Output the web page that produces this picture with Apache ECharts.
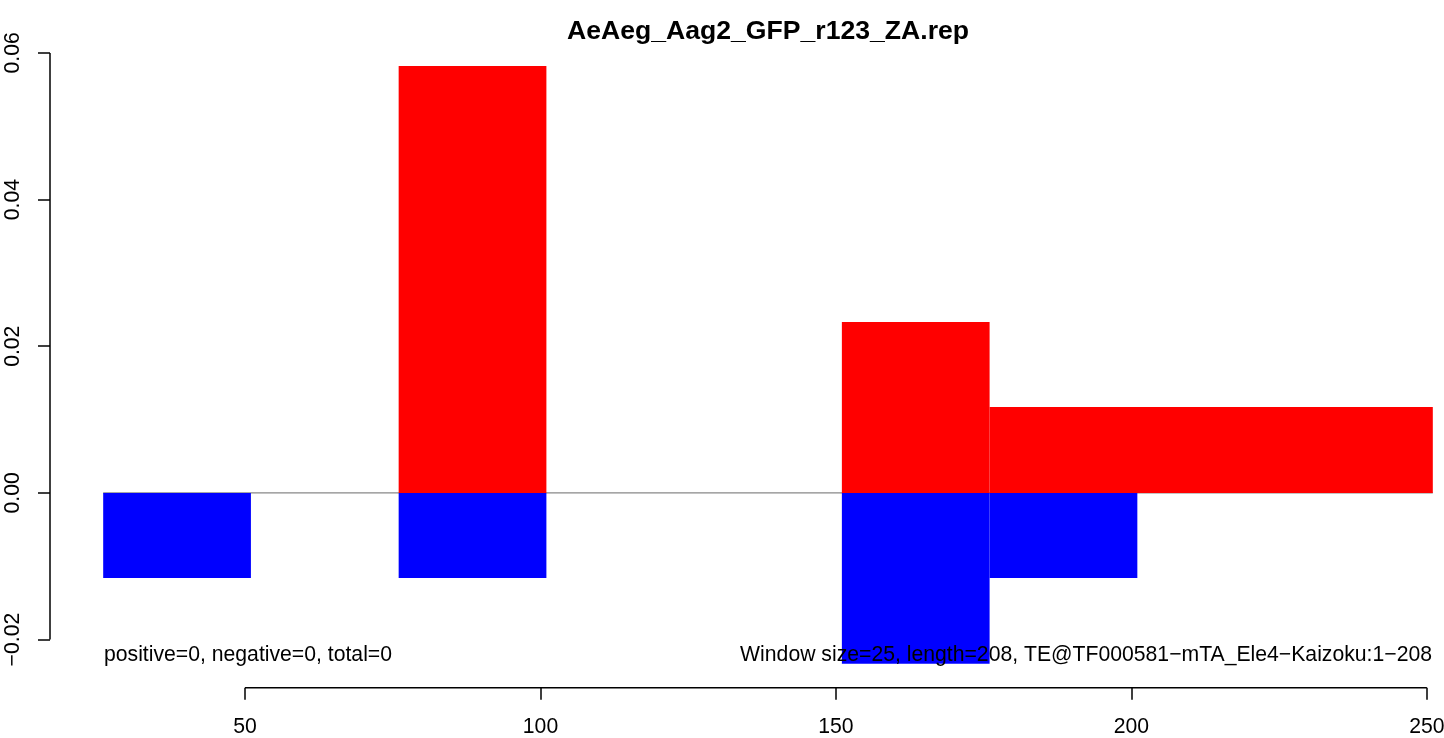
<!DOCTYPE html>
<html>
<head>
<meta charset="utf-8">
<script src="https://cdn.jsdelivr.net/npm/echarts@6/dist/echarts.min.js"></script>
<style>
html,body{margin:0;padding:0;background:#fff;overflow:hidden;width:1444px;height:738px;}
#chart{width:1500px;height:738px;}
</style>
</head>
<body>
<div id="chart"></div>
<script>
// ---- data ----
const titleText = "AeAeg_Aag2_GFP_r123_ZA.rep";
const leftNote = "positive=0, negative=0, total=0";
const rightNote = "Window size=25, length=208, TE@TF000581\u2212mTA_Ele4\u2212Kaizoku:1\u2212208";

const redStart = [76, 151, 176];
const redEnd   = [101, 176, 251];
const redValue = [0.0582, 0.0233, 0.0117];

const blueStart = [26, 76, 151, 176];
const blueEnd   = [51, 101, 176, 201];
const blueValue = [-0.0116, -0.0116, -0.0233, -0.0116];

const zeroLineRange = [26, 251];

const xTicks = [50, 100, 150, 200, 250];
const yTicks = [-0.02, 0.00, 0.02, 0.04, 0.06];
const yTickLabels = ["\u22120.02", "0.00", "0.02", "0.04", "0.06"];

// ---- R-style axis limits (4% extension) ----
const allX = redStart.concat(redEnd, blueStart, blueEnd);
const allY = redValue.concat(blueValue, [0]);
const dxMin = Math.min(...allX), dxMax = Math.max(...allX);
const dyMin = Math.min(...allY), dyMax = Math.max(...allY);
const xMin = dxMin - 0.04 * (dxMax - dxMin), xMax = dxMax + 0.04 * (dxMax - dxMin);
const yMin = dyMin - 0.04 * (dyMax - dyMin), yMax = dyMax + 0.04 * (dyMax - dyMin);

const FONT = "'Liberation Sans', Arial, Helvetica, sans-serif";

function rectData(starts, ends, vals) {
  return starts.map((s, i) => [s, ends[i], vals[i]]);
}
function rectRender(color) {
  return function (params, api) {
    const p0 = api.coord([api.value(0), 0]);
    const p1 = api.coord([api.value(1), api.value(2)]);
    return {
      type: 'rect',
      shape: {
        x: p0[0], y: Math.min(p0[1], p1[1]),
        width: p1[0] - p0[0], height: Math.abs(p1[1] - p0[1])
      },
      style: { fill: color }
    };
  };
}

const chart = echarts.init(document.getElementById('chart'), null, { renderer: 'canvas' });
chart.setOption({
  animation: false,
  backgroundColor: '#ffffff',
  title: {
    text: titleText,
    left: 763, top: 13,
    textAlign: 'center',
    textStyle: { fontFamily: FONT, fontWeight: 'bold', fontSize: 26.6, color: '#000' }
  },
  grid: { left: 50, top: 42.2, width: 1436, height: 645.5, containLabel: false },
  xAxis: {
    type: 'value', min: xMin, max: xMax,
    splitLine: { show: false },
    axisLine: { show: false, onZero: false },
    axisTick: { show: true, customValues: xTicks, length: 12, inside: false,
                lineStyle: { color: '#000', width: 1.5 } },
    axisLabel: { show: true, customValues: xTicks, margin: 29,
                 fontFamily: FONT, fontSize: 21.2, color: '#000',
                 formatter: v => String(v) }
  },
  yAxis: {
    type: 'value', min: yMin, max: yMax,
    splitLine: { show: false },
    axisLine: { show: false, onZero: false },
    axisTick: { show: true, customValues: yTicks, length: 12, inside: false,
                lineStyle: { color: '#000', width: 1.5 } },
    axisLabel: { show: true, customValues: yTicks, margin: 26, rotate: 90,
                 fontFamily: FONT, fontSize: 21.2, color: '#000',
                 formatter: v => {
                   const i = yTicks.findIndex(t => Math.abs(t - v) < 1e-9);
                   return i >= 0 ? yTickLabels[i] : '';
                 } }
  },
  series: [
    {
      type: 'line', silent: true, symbol: 'none', z: 1,
      data: [[zeroLineRange[0], 0], [zeroLineRange[1], 0]],
      lineStyle: { color: '#888888', width: 1.2 }
    },
    {
      type: 'custom', z: 2, renderItem: rectRender('#ff0000'),
      encode: { x: [0, 1], y: 2 },
      data: rectData(redStart, redEnd, redValue)
    },
    {
      type: 'custom', z: 3, renderItem: rectRender('#0000ff'),
      encode: { x: [0, 1], y: 2 },
      data: rectData(blueStart, blueEnd, blueValue)
    },
    {
      type: 'line', silent: true, symbol: 'none', z: 5, clip: false,
      data: [[xTicks[0], yMin], [xTicks[xTicks.length - 1], yMin]],
      lineStyle: { color: '#000', width: 1.5 }
    },
    {
      type: 'line', silent: true, symbol: 'none', z: 5, clip: false,
      data: [[xMin, yTicks[0]], [xMin, yTicks[yTicks.length - 1]]],
      lineStyle: { color: '#000', width: 1.5 }
    }
  ],
  graphic: [
    { type: 'text', left: 104, top: 645, z: 10,
      style: { text: leftNote, font: '21.2px ' + FONT, fill: '#000' } },
    { type: 'text', right: 68, top: 645, z: 10,
      style: { text: rightNote, font: '21.2px ' + FONT, fill: '#000' } }
  ]
});
</script>
</body>
</html>
